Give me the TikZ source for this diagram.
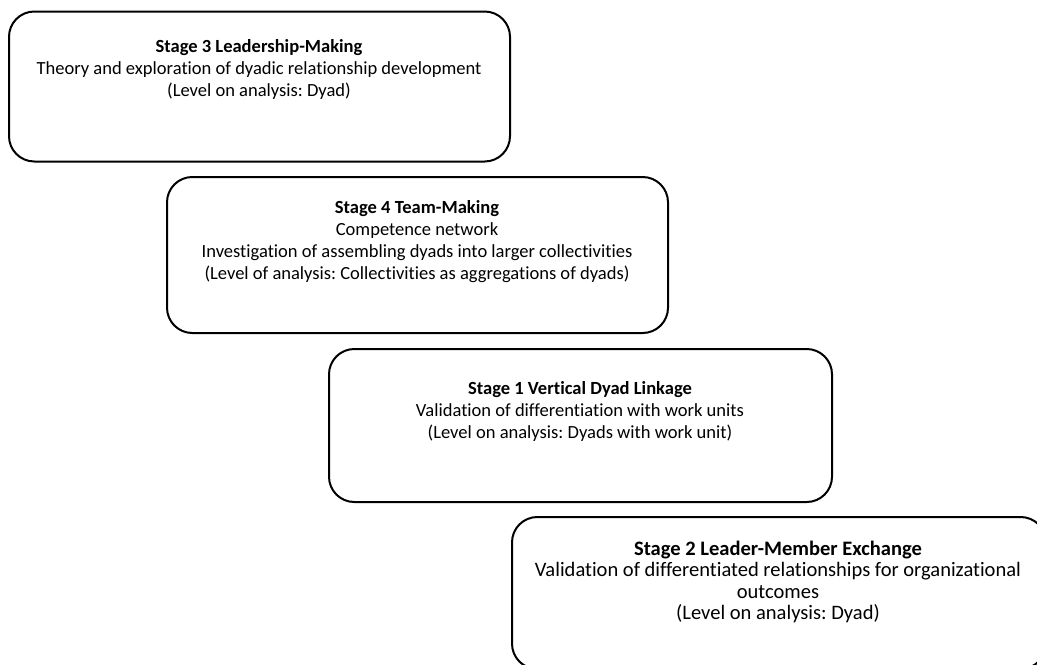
\documentclass[tikz,border=0pt]{standalone}
\usepackage{fontspec}
\setmainfont{Carlito}[Ligatures=NoCommon]
\frenchspacing
\begin{document}
\begin{tikzpicture}[x=0.75pt,y=-0.75pt,
  stagebox/.style={draw=black,line width=1.5pt,rounded corners=19pt,fill=white},
  stagetext/.style={align=center,font=\fontsize{13.9pt}{16.5pt}\selectfont,inner sep=0pt},
  bigtext/.style={align=center,font=\fontsize{15.4pt}{16.1pt}\selectfont,inner sep=0pt}]
\clip (0,0) rectangle (1037,664);
\fill[white] (0,0) rectangle (1037,664);
\node[stagebox,minimum width=501*0.75pt,minimum height=150*0.75pt] (b3) at (259.5,86.5) {};
\node[stagebox,minimum width=501*0.75pt,minimum height=156*0.75pt] (b4) at (417.5,255) {};
\node[stagebox,minimum width=503*0.75pt,minimum height=153*0.75pt] (b1) at (580.5,425.5) {};
\node[stagebox,minimum width=534*0.75pt,minimum height=152*0.75pt] (b2) at (779,593) {};
\node[stagetext] (t3) at (259,69.5) {\textbf{Stage 3 Leadership-Making}\\Theory and exploration of dyadic relationship development\\(Level on analysis: Dyad)};
\node[stagetext] (t4) at (417,242) {\textbf{Stage 4 Team-Making}\\Competence network\\Investigation of assembling dyads into larger collectivities\\(Level of analysis: Collectivities as aggregations of dyads)};
\node[stagetext] (t1) at (580,411) {\textbf{Stage 1 Vertical Dyad Linkage}\\Validation of differentiation with work units\\(Level on analysis: Dyads with work unit)};
\node[bigtext] (t2) at (778,582) {\textbf{Stage 2 Leader-Member Exchange}\\Validation of differentiated relationships for organizational\\outcomes\\(Level on analysis: Dyad)};
\end{tikzpicture}
\end{document}
